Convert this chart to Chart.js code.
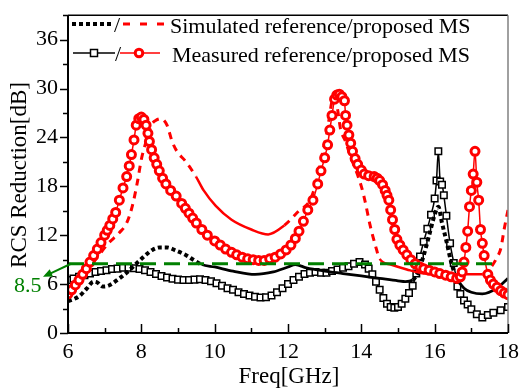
<!DOCTYPE html>
<html>
<head>
<meta charset="utf-8">
<script src="https://cdn.jsdelivr.net/npm/chart.js@4.4.0/dist/chart.umd.min.js"></script>
<style>
  html, body { margin: 0; padding: 0; background: #fff; }
</style>
</head>
<body>
<canvas id="rcsChart" width="525" height="392"></canvas>
<script>
// ---- data (frequency in GHz, RCS reduction in dB) ----
const xTicks = [6, 8, 10, 12, 14, 16, 18];
const yTicks = [0, 6, 12, 18, 24, 30, 36];

// simulated reference MS (black dotted)
const simRefFreq = [6.0, 6.3, 6.5, 6.7, 6.8, 6.95, 7.1, 7.4, 7.6, 7.86, 8.1, 8.3, 8.5, 8.7, 8.95, 9.2, 9.45, 9.65, 10.0, 10.5, 11.1, 11.6, 12.0, 12.2, 12.5, 13.0, 13.5, 14.0, 14.5, 15.0, 15.2, 15.4, 15.55, 15.7, 15.85, 16.0, 16.1, 16.2, 16.32, 16.45, 16.6, 16.8, 17.0, 17.3, 17.7, 18.0];
const simRefDb   = [3.9, 4.5, 5.4, 6.3, 6.2, 5.7, 5.8, 6.7, 7.4, 8.5, 9.5, 10.2, 10.5, 10.5, 10.1, 9.6, 8.9, 8.4, 8.1, 7.6, 7.2, 7.5, 8.1, 8.4, 8.0, 7.6, 7.3, 7.0, 6.7, 6.4, 6.3, 6.5, 7.5, 9.5, 12.0, 14.5, 15.5, 13.5, 11.3, 8.7, 6.7, 5.5, 5.0, 4.8, 5.5, 6.7];

// simulated proposed MS (red dashed)
const simPropFreq = [6.0, 6.4, 6.8, 7.1, 7.4, 7.6, 7.75, 7.9, 8.0, 8.13, 8.27, 8.4, 8.54, 8.7, 8.84, 8.97, 9.2, 9.49, 9.7, 10.03, 10.46, 11.0, 11.46, 11.9, 12.3, 12.6, 12.78, 12.95, 13.05, 13.25, 13.35, 13.43, 13.57, 13.68, 14.0, 14.1, 14.24, 14.38, 14.5, 14.8, 15.24, 15.7, 16.2, 16.6, 17.3, 17.5, 17.68, 17.81, 17.89, 18.0];
const simPropDb   = [5.0, 7.0, 9.3, 11.0, 12.3, 13.5, 15.5, 18.7, 21.3, 23.5, 25.5, 26.1, 26.3, 25.5, 23.5, 22.3, 21.1, 19.2, 17.5, 15.6, 13.9, 12.7, 12.1, 13.2, 15.0, 16.3, 18.7, 22.3, 24.3, 29.0, 27.5, 25.1, 23.5, 22.0, 18.0, 16.2, 13.2, 10.8, 9.1, 8.4, 7.8, 7.3, 7.2, 7.2, 7.2, 7.9, 9.1, 10.5, 12.6, 15.1];

// measured reference MS (black line, square markers)
const measRefFreq = [6.0, 6.15, 6.3, 6.45, 6.6, 6.75, 6.9, 7.05, 7.2, 7.35, 7.5, 7.65, 7.8, 7.95, 8.1, 8.25, 8.4, 8.55, 8.7, 8.85, 9.0, 9.15, 9.3, 9.45, 9.6, 9.75, 9.9, 10.05, 10.2, 10.35, 10.5, 10.65, 10.8, 10.95, 11.1, 11.25, 11.4, 11.55, 11.7, 11.85, 12.0, 12.15, 12.3, 12.45, 12.6, 12.75, 12.9, 13.05, 13.2, 13.35, 13.5, 13.65, 13.8, 13.95, 14.1, 14.2, 14.3, 14.4, 14.5, 14.6, 14.7, 14.8, 14.9, 15.0, 15.1, 15.2, 15.3, 15.4, 15.5, 15.6, 15.7, 15.8, 15.9, 16.0, 16.05, 16.1, 16.15, 16.2, 16.25, 16.32, 16.42, 16.52, 16.62, 16.7, 16.8, 16.9, 17.0, 17.15, 17.3, 17.45, 17.6, 17.8, 18.0];
const measRefDb   = [6.5, 6.7, 6.9, 7.1, 7.3, 7.5, 7.6, 7.7, 7.85, 7.9, 8.0, 8.0, 7.95, 7.85, 7.7, 7.5, 7.25, 7.0, 6.8, 6.65, 6.55, 6.5, 6.5, 6.55, 6.6, 6.5, 6.35, 6.1, 5.8, 5.5, 5.3, 5.0, 4.8, 4.6, 4.45, 4.35, 4.4, 4.6, 5.0, 5.5, 6.0, 6.5, 6.9, 7.25, 7.4, 7.5, 7.4, 7.4, 7.6, 7.8, 8.0, 8.2, 8.5, 8.7, 8.4, 7.9, 7.2, 6.3, 5.3, 4.3, 3.6, 3.2, 3.1, 3.2, 3.6, 4.2, 4.9, 5.8, 7.3, 9.4, 11.2, 12.8, 14.5, 16.5, 18.7, 22.3, 18.6, 18.2, 16.9, 14.4, 11.0, 8.6, 5.7, 4.8, 4.0, 3.5, 2.9, 2.3, 1.9, 2.2, 2.5, 2.8, 3.2];

// measured proposed MS (red line, circle markers)
const measPropFreq = [6.0, 6.1, 6.2, 6.3, 6.4, 6.5, 6.6, 6.7, 6.8, 6.9, 7.0, 7.07, 7.14, 7.22, 7.3, 7.4, 7.5, 7.6, 7.67, 7.73, 7.8, 7.86, 7.93, 8.0, 8.07, 8.13, 8.18, 8.22, 8.28, 8.35, 8.42, 8.49, 8.58, 8.67, 8.8, 8.95, 9.1, 9.2, 9.3, 9.4, 9.5, 9.65, 9.8, 10.0, 10.15, 10.3, 10.46, 10.6, 10.75, 10.9, 11.05, 11.2, 11.35, 11.5, 11.65, 11.8, 11.95, 12.08, 12.2, 12.3, 12.42, 12.54, 12.68, 12.81, 12.9, 13.0, 13.08, 13.14, 13.2, 13.27, 13.33, 13.4, 13.47, 13.54, 13.57, 13.61, 13.66, 13.71, 13.76, 13.83, 13.9, 14.0, 14.08, 14.2, 14.35, 14.43, 14.5, 14.58, 14.65, 14.7, 14.75, 14.8, 14.85, 14.91, 14.97, 15.05, 15.14, 15.24, 15.35, 15.47, 15.6, 15.7, 15.85, 16.0, 16.14, 16.3, 16.45, 16.6, 16.7, 16.75, 16.8, 16.85, 16.9, 16.95, 17.0, 17.05, 17.1, 17.15, 17.2, 17.25, 17.3, 17.35, 17.45, 17.52, 17.6, 17.7, 17.8, 17.9, 18.0];
const measPropDb   = [4.8, 5.3, 5.9, 6.5, 7.2, 7.9, 8.7, 9.5, 10.3, 11.1, 12.0, 12.6, 13.2, 14.0, 14.8, 16.3, 17.8, 19.2, 20.5, 21.9, 23.7, 25.5, 26.3, 26.5, 26.2, 25.5, 24.5, 23.5, 22.5, 21.5, 20.7, 19.9, 19.0, 18.3, 17.5, 16.8, 15.9, 15.3, 14.7, 14.1, 13.5, 12.7, 12.0, 11.3, 10.8, 10.3, 9.9, 9.6, 9.3, 9.1, 9.0, 8.9, 8.9, 9.1, 9.3, 9.7, 10.2, 10.8, 11.6, 12.5, 13.7, 15.1, 16.3, 18.3, 19.9, 21.5, 23.1, 24.9, 26.7, 28.7, 29.2, 29.3, 29.0, 28.5, 26.7, 25.5, 24.3, 23.3, 22.3, 21.4, 20.7, 20.0, 19.5, 19.3, 19.2, 19.0, 18.7, 18.2, 17.5, 16.9, 16.3, 15.1, 13.9, 12.7, 11.5, 10.8, 10.2, 9.6, 9.0, 8.5, 8.1, 7.9, 7.7, 7.5, 7.3, 7.1, 6.9, 6.7, 6.9, 7.5, 8.7, 10.5, 12.5, 15.5, 17.5, 19.5, 22.3, 18.5, 16.3, 12.7, 11.0, 9.5, 7.2, 6.5, 6.0, 5.6, 5.2, 4.9, 4.7];

// 8.5 dB reference level
const thresholdDb = 8.5;
const thresholdSpan = [6, 17.75];

const toPoints = (xs, ys) => xs.map((x, i) => ({ x: x, y: ys[i] }));
const serif = "'Liberation Serif', 'Times New Roman', serif";

// dashed/dotted traces are drawn solid over their flat stretches
function dashOutside(pattern, solidSpans, thin, thick) {
  const solid = c => solidSpans.some(([lo, hi]) => c.p0.parsed.x >= lo && c.p1.parsed.x <= hi);
  return {
    borderDash: c => solid(c) ? [] : pattern,
    borderWidth: c => solid(c) ? thin : thick
  };
}

// frame, tick marks, axis titles, legend and the 8.5 arrow
const decorations = {
  id: 'decorations',
  afterDraw(chart) {
    const { ctx, chartArea: a, scales: { x, y } } = chart;
    ctx.save();

    // frame
    ctx.strokeStyle = '#000';
    ctx.lineWidth = 1.5;
    ctx.beginPath();
    ctx.moveTo(a.left, a.top); ctx.lineTo(a.right, a.top);
    ctx.stroke();
    ctx.strokeStyle = '#808080';
    ctx.beginPath();
    ctx.moveTo(a.right, a.top); ctx.lineTo(a.right, a.bottom);
    ctx.stroke();
    ctx.strokeStyle = '#000';
    ctx.lineWidth = 2;
    ctx.beginPath();
    ctx.moveTo(a.left, a.top); ctx.lineTo(a.left, a.bottom); ctx.lineTo(a.right, a.bottom);
    ctx.stroke();

    // tick marks: y outward, x inward
    ctx.lineWidth = 1.5;
    ctx.beginPath();
    for (let v = 0; v <= 39; v += 3) {
      const py = Math.round(y.getPixelForValue(v)) + 0.5;
      const len = v % 6 === 0 ? 8 : 5;
      ctx.moveTo(a.left - len, py); ctx.lineTo(a.left, py);
    }
    for (let v = 6; v <= 18; v += 1) {
      const px = Math.round(x.getPixelForValue(v)) + 0.5;
      const len = v % 2 === 0 ? 9 : 5;
      ctx.moveTo(px, a.bottom); ctx.lineTo(px, a.bottom - len);
    }
    ctx.stroke();

    // axis titles
    ctx.fillStyle = '#000';
    ctx.font = '23px ' + serif;
    ctx.textAlign = 'center';
    ctx.textBaseline = 'alphabetic';
    ctx.fillText('Freq[GHz]', 289, 383);
    ctx.save();
    ctx.translate(26, 175);
    ctx.rotate(-Math.PI / 2);
    ctx.fillText('RCS Reduction[dB]', 0, 0);
    ctx.restore();

    // 8.5 dB arrow and label
    const ty = y.getPixelForValue(thresholdDb);
    const sx = a.left + 3, ex = a.left - 25, ey = ty + 13;
    ctx.strokeStyle = '#008000';
    ctx.fillStyle = '#008000';
    ctx.lineWidth = 2;
    ctx.beginPath();
    ctx.moveTo(sx, ty); ctx.lineTo(ex + 6, ey - 2.7);
    ctx.stroke();
    const ang = Math.atan2(ey - ty, ex - sx);
    ctx.beginPath();
    ctx.moveTo(ex, ey);
    ctx.lineTo(ex - 10 * Math.cos(ang - 0.4), ey - 10 * Math.sin(ang - 0.4));
    ctx.lineTo(ex - 10 * Math.cos(ang + 0.4), ey - 10 * Math.sin(ang + 0.4));
    ctx.closePath();
    ctx.fill();
    ctx.font = '22px ' + serif;
    ctx.textAlign = 'left';
    ctx.fillText(thresholdDb.toFixed(1), 14, 292);

    // legend
    ctx.textAlign = 'left';
    ctx.fillStyle = '#000';
    ctx.lineCap = 'butt';
    // row 1: simulated
    ctx.strokeStyle = '#000';
    ctx.lineWidth = 4;
    ctx.setLineDash([4, 3]);
    ctx.beginPath(); ctx.moveTo(72, 24); ctx.lineTo(114, 24); ctx.stroke();
    ctx.strokeStyle = '#ff0000';
    ctx.lineWidth = 3;
    ctx.setLineDash([7, 10]);
    ctx.beginPath(); ctx.moveTo(123, 24); ctx.lineTo(166, 24); ctx.stroke();
    ctx.setLineDash([]);
    ctx.fillText('/', 114, 32);
    ctx.fillText('Simulated reference/proposed MS', 170, 33);
    // row 2: measured
    ctx.strokeStyle = '#000';
    ctx.lineWidth = 1.5;
    ctx.beginPath(); ctx.moveTo(73, 53); ctx.lineTo(115, 53); ctx.stroke();
    ctx.fillStyle = '#fff';
    ctx.fillRect(90.5, 49.5, 7, 7);
    ctx.strokeRect(90.5, 49.5, 7, 7);
    ctx.strokeStyle = '#ff0000';
    ctx.beginPath(); ctx.moveTo(120, 53); ctx.lineTo(160, 53); ctx.stroke();
    ctx.lineWidth = 3;
    ctx.beginPath(); ctx.arc(139, 53, 3.8, 0, Math.PI * 2); ctx.fill(); ctx.stroke();
    ctx.fillStyle = '#000';
    ctx.fillText('/', 115, 61);
    ctx.fillText('Measured reference/proposed MS', 172, 62);

    ctx.restore();
  }
};

new Chart(document.getElementById('rcsChart'), {
  type: 'line',
  data: {
    datasets: [
      {
        label: '8.5 dB',
        data: toPoints(thresholdSpan, [thresholdDb, thresholdDb]),
        borderColor: '#008000',
        borderWidth: 3,
        borderDash: [16, 8],
        pointRadius: 0
      },
      {
        label: 'Measured proposed MS',
        data: toPoints(measPropFreq, measPropDb),
        borderColor: '#ff0000',
        borderWidth: 1.5,
        pointStyle: 'circle',
        pointRadius: 4,
        pointBorderWidth: 3,
        pointBorderColor: '#ff0000',
        pointBackgroundColor: '#fff',
        cubicInterpolationMode: 'monotone'
      },
      {
        label: 'Simulated proposed MS',
        data: toPoints(simPropFreq, simPropDb),
        borderColor: '#ff0000',
        borderWidth: 3,
        borderDash: [7, 6],
        pointRadius: 0,
        cubicInterpolationMode: 'monotone',
        segment: dashOutside([7, 6], [[9.45, 12.0], [14.5, 17.45]], 2.5, 3)
      },
      {
        label: 'Simulated reference MS',
        data: toPoints(simRefFreq, simRefDb),
        borderColor: '#000',
        borderWidth: 4,
        borderDash: [4, 3],
        pointRadius: 0,
        cubicInterpolationMode: 'monotone',
        segment: dashOutside([4, 3], [[9.6, 15.4], [16.6, 18]], 2.8, 4)
      },
      {
        label: 'Measured reference MS',
        data: toPoints(measRefFreq, measRefDb),
        borderColor: '#000',
        borderWidth: 1.5,
        pointStyle: 'rect',
        pointRadius: 4.6,
        pointBorderWidth: 1.5,
        pointBorderColor: '#000',
        pointBackgroundColor: '#fff',
        cubicInterpolationMode: 'monotone'
      }
    ]
  },
  options: {
    responsive: false,
    animation: false,
    devicePixelRatio: 1,
    layout: { padding: { top: 6, right: 13, left: 0, bottom: 0 } },
    plugins: {
      legend: { display: false },
      tooltip: { enabled: false }
    },
    scales: {
      x: {
        type: 'linear',
        min: 6,
        max: 18,
        afterBuildTicks: s => { s.ticks = xTicks.map(v => ({ value: v })); },
        afterFit: s => { s.height = 59; },
        grid: { display: false, drawTicks: false },
        border: { display: false },
        ticks: { color: '#000', padding: 6, maxRotation: 0, font: { family: serif, size: 22 } }
      },
      y: {
        min: 0,
        max: 39,
        afterBuildTicks: s => { s.ticks = yTicks.map(v => ({ value: v })); },
        afterFit: s => { s.width = 68; },
        grid: { display: false, drawTicks: true, tickLength: 8 },
        border: { display: false },
        ticks: { color: '#000', padding: 2, font: { family: serif, size: 22 } }
      }
    }
  },
  plugins: [decorations]
});
</script>
</body>
</html>
